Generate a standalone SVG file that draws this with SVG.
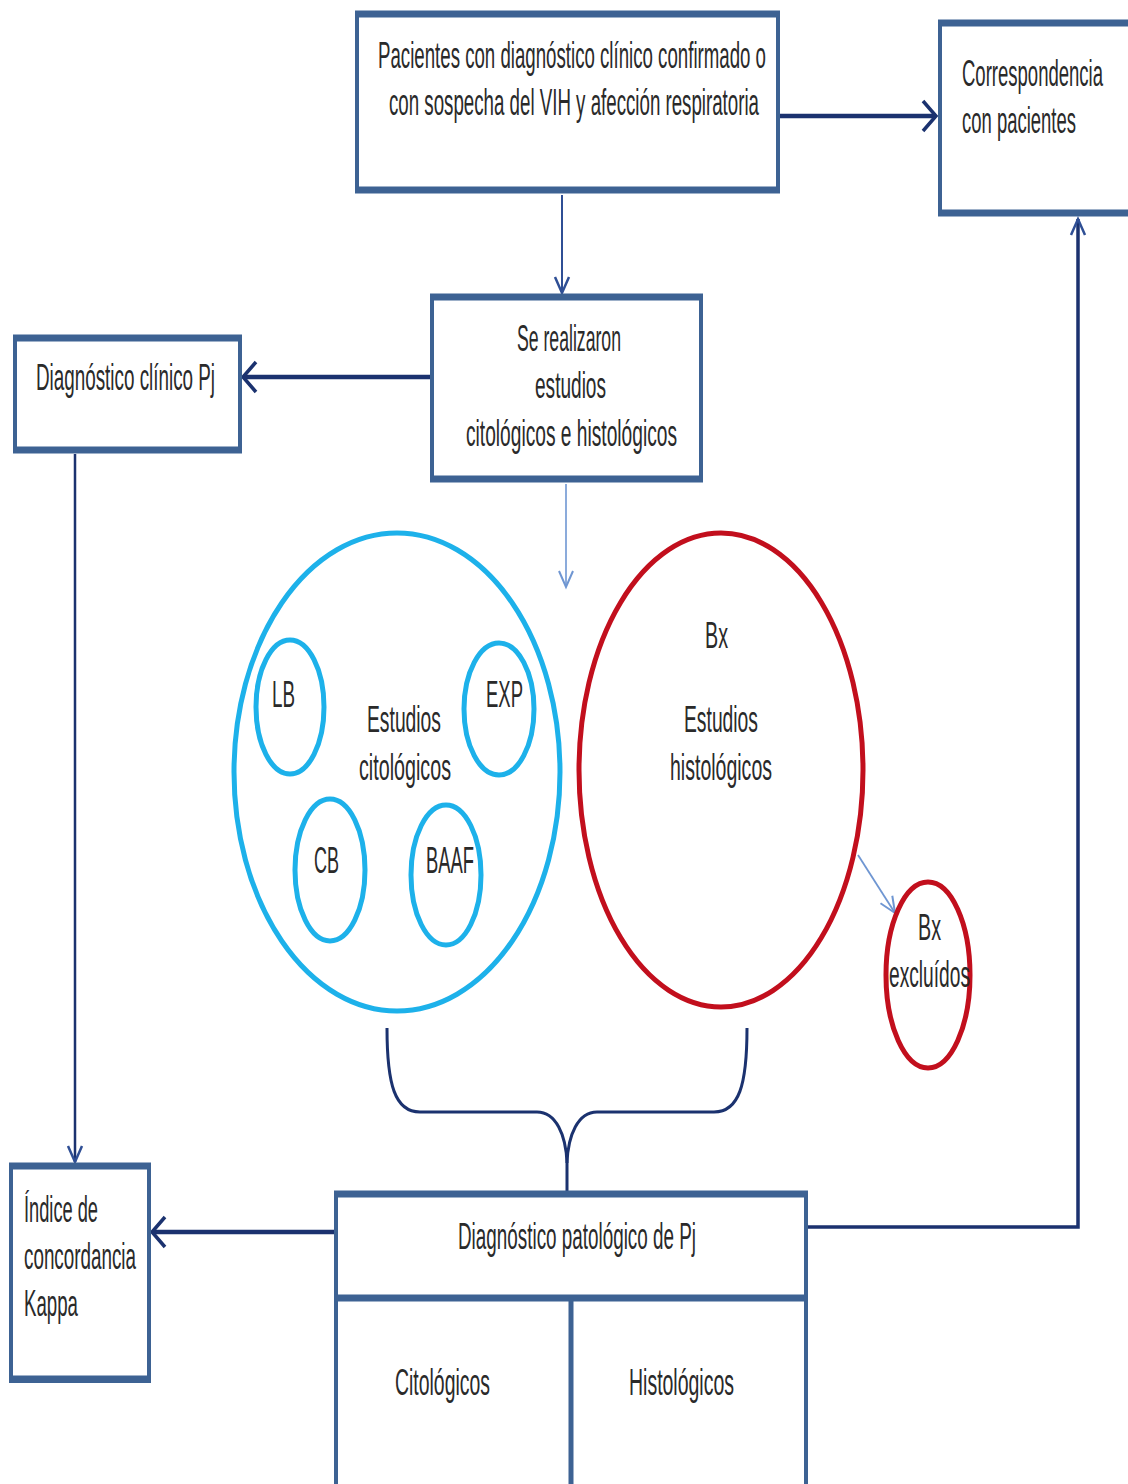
<svg xmlns="http://www.w3.org/2000/svg" width="1128" height="1484" viewBox="0 0 1128 1484">
<style>
.bg{fill:#ffffff}
.box{fill:#ffffff;stroke:#3d6293;stroke-width:4}
.band{stroke:#3d6293;stroke-width:7;fill:none}
.t{font-family:"Liberation Sans",Arial,sans-serif;font-size:36px;fill:#2a2a2a}
.c{text-anchor:middle}
.navy{stroke:#1b326f;fill:none}
.lblue{stroke:#6f96d2;fill:none}
.cyan{fill:none;stroke:#1db1ea}
.red{fill:none;stroke:#c20f1d}
</style>
<defs>
<marker id="ahBig" markerUnits="userSpaceOnUse" markerWidth="20" markerHeight="36" refX="16" refY="18" orient="auto">
<path d="M3,3 L16,18 L3,33" fill="none" stroke="#1b326f" stroke-width="3.5"/>
</marker>
<marker id="ahSmall" markerUnits="userSpaceOnUse" markerWidth="22" markerHeight="20" refX="18" refY="10" orient="auto">
<path d="M2,3 L18,10 L2,17" fill="none" stroke="#2f4f95" stroke-width="2.5"/>
</marker>
<marker id="ahLight" markerUnits="userSpaceOnUse" markerWidth="22" markerHeight="20" refX="18" refY="10" orient="auto">
<path d="M2,3 L18,10 L2,17" fill="none" stroke="#6f96d2" stroke-width="2"/>
</marker>
</defs>
<rect class="bg" x="0" y="0" width="1128" height="1484"/>

<g id="connectors">
<line class="navy" x1="780" y1="116" x2="936" y2="116" stroke-width="4.5" marker-end="url(#ahBig)"/>
<line class="navy" x1="562" y1="195" x2="562" y2="293" stroke-width="2" style="stroke:#2f4f95" marker-end="url(#ahSmall)"/>
<line class="navy" x1="431" y1="377" x2="243" y2="377" stroke-width="4.5" marker-end="url(#ahBig)"/>
<line class="lblue" x1="566" y1="484" x2="566" y2="587" stroke-width="1.6" marker-end="url(#ahLight)"/>
<line class="navy" x1="75" y1="454" x2="75" y2="1162" stroke-width="2.5" marker-end="url(#ahSmall)"/>
<line class="navy" x1="335" y1="1232" x2="152" y2="1232" stroke-width="4.5" marker-end="url(#ahBig)"/>
<polyline class="navy" points="808,1227 1078,1227 1078,219" stroke-width="3.5" marker-end="url(#ahSmall)"/>
<line class="lblue" x1="858" y1="855" x2="895" y2="913" stroke-width="1.8" marker-end="url(#ahLight)"/>
<path class="navy" stroke-width="3" d="M387,1028 C387,1085 395,1112 420,1112 L537,1112 C556,1112 566,1135 567,1163 L567,1195"/>
<path class="navy" stroke-width="3" d="M747,1028 C747,1085 739,1112 714,1112 L597,1112 C578,1112 568,1135 567,1163"/>
</g>

<g id="node-pacientes">
<rect class="box" x="357" y="13" width="421" height="178"/>
<line class="band" x1="355" y1="14" x2="780" y2="14"/>
<line class="band" x1="355" y1="190" x2="780" y2="190"/>
<text class="t" x="378" y="68" textLength="388" lengthAdjust="spacingAndGlyphs">Pacientes con diagnóstico clínico confirmado o</text>
<text class="t" x="389" y="115" textLength="370" lengthAdjust="spacingAndGlyphs">con sospecha del VIH y  afección respiratoria</text>
</g>

<g id="node-correspondencia">
<rect class="box" x="940" y="22" width="192" height="192"/>
<line class="band" x1="938" y1="23" x2="1128" y2="23"/>
<line class="band" x1="938" y1="213" x2="1128" y2="213"/>
<text class="t" x="962" y="86" textLength="141" lengthAdjust="spacingAndGlyphs">Correspondencia</text>
<text class="t" x="962" y="133" textLength="114" lengthAdjust="spacingAndGlyphs">con pacientes</text>
</g>

<g id="node-estudios">
<rect class="box" x="432" y="296" width="269" height="184"/>
<line class="band" x1="430" y1="297" x2="703" y2="297"/>
<line class="band" x1="430" y1="479" x2="703" y2="479"/>
<text class="t" x="517" y="351" textLength="104" lengthAdjust="spacingAndGlyphs">Se realizaron</text>
<text class="t" x="535" y="398" textLength="71" lengthAdjust="spacingAndGlyphs">estudios</text>
<text class="t" x="466" y="446" textLength="211" lengthAdjust="spacingAndGlyphs">citológicos e histológicos</text>
</g>

<g id="node-diag-clinico">
<rect class="box" x="15" y="337" width="225" height="114"/>
<line class="band" x1="13" y1="338" x2="242" y2="338"/>
<line class="band" x1="13" y1="450" x2="242" y2="450"/>
<text class="t" x="36" y="390" textLength="179" lengthAdjust="spacingAndGlyphs">Diagnóstico clínico Pj</text>
</g>

<g id="node-citologicos">
<ellipse class="cyan" cx="397" cy="772" rx="163" ry="239" stroke-width="5"/>
<text class="t" x="367" y="732" textLength="74" lengthAdjust="spacingAndGlyphs">Estudios</text>
<text class="t" x="359" y="780" textLength="92" lengthAdjust="spacingAndGlyphs">citológicos</text>
</g>
<g id="node-lb">
<ellipse class="cyan" cx="290" cy="707" rx="34" ry="67" stroke-width="5"/>
<text class="t" x="272" y="707" textLength="23" lengthAdjust="spacingAndGlyphs">LB</text>
</g>
<g id="node-exp">
<ellipse class="cyan" cx="499" cy="709" rx="35" ry="66" stroke-width="5"/>
<text class="t" x="486" y="707" textLength="37" lengthAdjust="spacingAndGlyphs">EXP</text>
</g>
<g id="node-cb">
<ellipse class="cyan" cx="330" cy="870" rx="35" ry="71" stroke-width="5"/>
<text class="t" x="314" y="873" textLength="25" lengthAdjust="spacingAndGlyphs">CB</text>
</g>
<g id="node-baaf">
<ellipse class="cyan" cx="446" cy="875" rx="35" ry="70" stroke-width="5"/>
<text class="t" x="426" y="873" textLength="48" lengthAdjust="spacingAndGlyphs">BAAF</text>
</g>

<g id="node-histologicos">
<ellipse class="red" cx="721" cy="770" rx="142" ry="237" stroke-width="5"/>
<text class="t" x="705" y="648" textLength="23" lengthAdjust="spacingAndGlyphs">Bx</text>
<text class="t" x="684" y="732" textLength="74" lengthAdjust="spacingAndGlyphs">Estudios</text>
<text class="t" x="670" y="780" textLength="102" lengthAdjust="spacingAndGlyphs">histológicos</text>
</g>

<g id="node-bx-excluidos">
<ellipse class="red" cx="928" cy="975" rx="42" ry="93" stroke-width="5"/>
<text class="t" x="918" y="940" textLength="23" lengthAdjust="spacingAndGlyphs">Bx</text>
<text class="t" x="889" y="987" textLength="81" lengthAdjust="spacingAndGlyphs">excluídos</text>
</g>

<g id="node-kappa">
<rect class="box" x="11" y="1165" width="138" height="216"/>
<line class="band" x1="9" y1="1166" x2="151" y2="1166"/>
<line class="band" x1="9" y1="1379" x2="151" y2="1379"/>
<text class="t" x="24" y="1222" textLength="74" lengthAdjust="spacingAndGlyphs">Índice de</text>
<text class="t" x="24" y="1269" textLength="112" lengthAdjust="spacingAndGlyphs">concordancia</text>
<text class="t" x="24" y="1316" textLength="54" lengthAdjust="spacingAndGlyphs">Kappa</text>
</g>

<g id="node-diag-patologico">
<rect class="box" x="336" y="1193" width="470" height="300"/>
<line class="band" x1="334" y1="1194" x2="808" y2="1194"/>
<line class="band" x1="334" y1="1298" x2="808" y2="1298"/>
<line class="box" x1="571" y1="1298" x2="571" y2="1484" style="stroke-width:5"/>
<text class="t" x="458" y="1249" textLength="238" lengthAdjust="spacingAndGlyphs">Diagnóstico patológico de Pj</text>
<text class="t" x="395" y="1395" textLength="95" lengthAdjust="spacingAndGlyphs">Citológicos</text>
<text class="t" x="629" y="1395" textLength="105" lengthAdjust="spacingAndGlyphs">Histológicos</text>
</g>
</svg>
